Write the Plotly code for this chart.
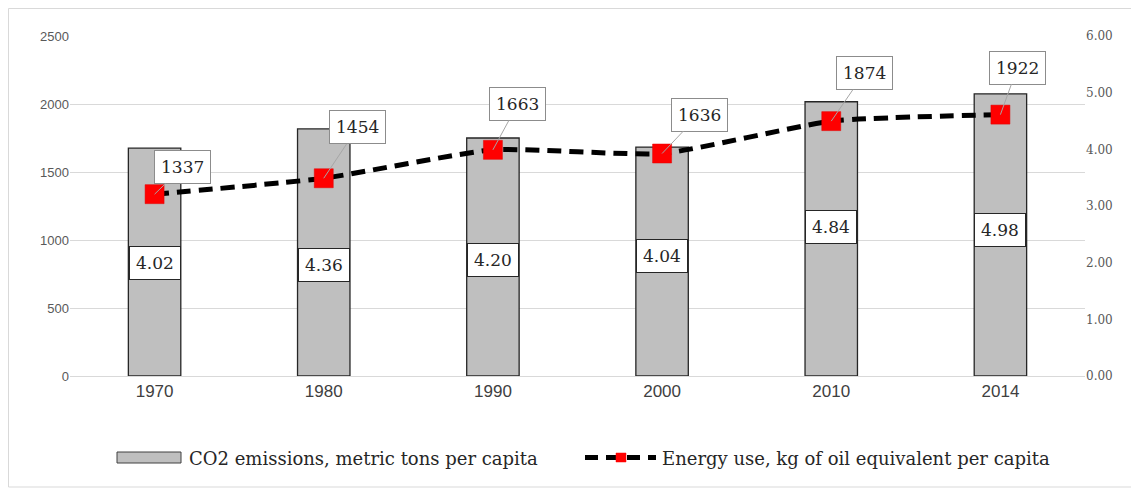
import plotly.graph_objects as go

years = ["1970", "1980", "1990", "2000", "2010", "2014"]
co2 = [4.02, 4.36, 4.20, 4.04, 4.84, 4.98]
energy = [1337, 1454, 1663, 1636, 1874, 1922]
co2_label_shift = [-1, -13, -3, 6, 12, 5]
energy_label_dx = [28, 34, 25, 37, 33, 17]
energy_label_dy = [-27, -51, -46, -39, -48, -47]

# page has an 8px body margin; work in page pixels and convert
OFF = 8
W, H = 1139 - OFF, 491 - OFF
L, T = 70 - OFF, 36 - OFF
R = W - (1085 - OFF)
B = H - (376 - OFF)
PW, PH = W - L - R, H - T - B

def px(x):
    return (x - OFF - L) / PW

def py(y):
    return (H - B - (y - OFF)) / PH

SERIF = "DejaVu Serif"
SANS = "Liberation Sans"

fig = go.Figure()
fig.add_trace(go.Bar(
    x=years, y=co2, xaxis="x", yaxis="y", width=0.31,
    marker=dict(color="#BFBFBF", line=dict(color="#262626", width=1.3)),
    name="CO2 emissions, metric tons per capita", showlegend=False,
))
fig.add_trace(go.Scatter(
    x=years, y=energy, xaxis="x", yaxis="y2", mode="lines+markers",
    line=dict(color="black", width=5, dash="14px,8px", shape="spline", smoothing=0.5),
    marker=dict(symbol="square", size=19, color="#FF0000", line=dict(color="#E00000", width=0.5)),
    name="Energy use, kg of oil equivalent per capita", showlegend=False,
))

annotations = []
for i, (v, s) in enumerate(zip(co2, co2_label_shift)):
    annotations.append(dict(
        x=i, y=v / 2, xref="x", yref="y", yshift=s, text=f"{v:.2f}",
        showarrow=False, bgcolor="white", bordercolor="#262626", borderwidth=1,
        borderpad=6, font=dict(family=SERIF, size=17, color="#262626"),
    ))
for i, (v, dx, dy) in enumerate(zip(energy, energy_label_dx, energy_label_dy)):
    annotations.append(dict(
        x=i, y=v, xref="x", yref="y2", ax=dx, ay=dy,
        text=f"{v}",
        showarrow=True, arrowhead=0, arrowwidth=1, arrowcolor="#A6A6A6", standoff=0,
        bgcolor="white", bordercolor="#8C8C8C", borderwidth=1,
        borderpad=6, font=dict(family=SERIF, size=17, color="#262626"),
    ))

annotations.append(dict(
    x=px(187), y=py(458), xref="paper", yref="paper", xanchor="left", yanchor="middle",
    text="CO2 emissions, metric tons per capita", showarrow=False,
    font=dict(family=SERIF, size=18, color="#262626"),
))
annotations.append(dict(
    x=px(660), y=py(458), xref="paper", yref="paper", xanchor="left", yanchor="middle",
    text="Energy use, kg of oil equivalent per capita", showarrow=False,
    font=dict(family=SERIF, size=18, color="#262626"),
))

shapes = [
    dict(type="rect", xref="paper", yref="paper", x0=px(8.5), x1=px(1133), y0=py(487), y1=py(8.5),
         line=dict(color="#D9D9D9", width=1), fillcolor="rgba(0,0,0,0)", layer="below"),
    dict(type="rect", xref="paper", yref="paper", x0=px(117), x1=px(181), y0=py(463), y1=py(452),
         line=dict(color="#404040", width=1), fillcolor="#BFBFBF"),
    dict(type="line", xref="paper", yref="paper", x0=px(585), x1=px(656), y0=py(457.5), y1=py(457.5),
         line=dict(color="black", width=5, dash="13px,8px")),
    dict(type="rect", xref="paper", yref="paper", x0=px(616), x1=px(626), y0=py(462), y1=py(453),
         line=dict(color="#FF0000", width=0.5), fillcolor="#FF0000"),
]

fig.update_layout(
    width=W, height=H,
    margin=dict(l=L, r=R, t=T, b=B),
    paper_bgcolor="white", plot_bgcolor="white",
    xaxis=dict(
        type="category", categoryorder="array", categoryarray=years,
        range=[-0.5, len(years) - 0.5], autorange=False,
        showgrid=False, showline=True, linecolor="#D9D9D9", linewidth=1,
        ticks="", tickfont=dict(family=SANS, size=17, color="#404040"),
    ),
    yaxis=dict(
        side="right", range=[0, 6], dtick=1, tickformat=".2f", showgrid=False,
        zeroline=False, showline=False, ticks="",
        tickfont=dict(family=SERIF, size=12, color="#595959"),
    ),
    yaxis2=dict(
        side="left", overlaying="y", range=[0, 2500], dtick=500, showgrid=True,
        gridcolor="#D9D9D9", gridwidth=1, zeroline=False, showline=False, ticks="",
        tickfont=dict(family=SANS, size=13, color="#595959"),
    ),
    annotations=annotations,
    shapes=shapes,
    showlegend=False,
)

fig.write_html("out.html")
